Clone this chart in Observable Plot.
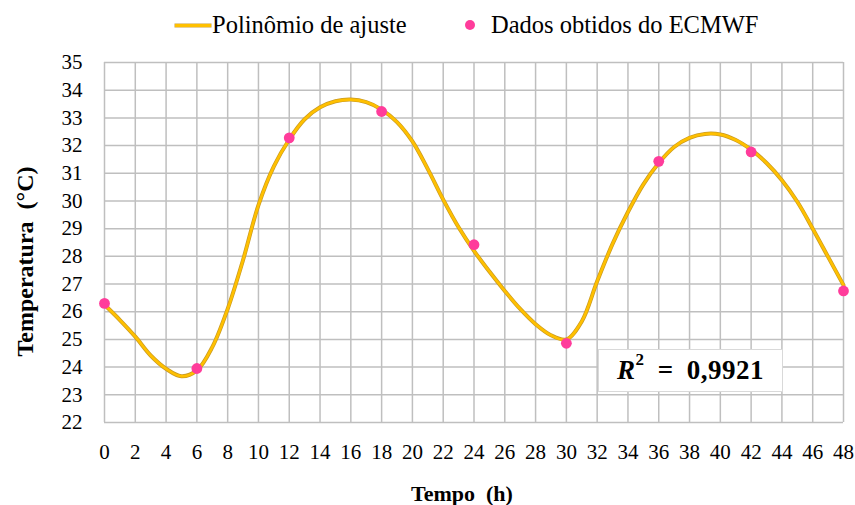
<!DOCTYPE html>
<html>
<head>
<meta charset="utf-8">
<script src="https://cdn.jsdelivr.net/npm/d3@7"></script>
<script src="https://cdn.jsdelivr.net/npm/@observablehq/plot@0.6"></script>
</head>
<body style="margin:0;padding:0;background:#fff">
<div id="wrap" style="position:relative;width:855px;height:505px;font-family:'Liberation Serif'">
  <div id="chart"></div>
  <div style="position:absolute;left:175px;top:23.5px;width:36px;height:3px;background:#ffc000;box-shadow:0 0 0 0.5px #c9a03a"></div>
  <span style="position:absolute;left:212px;top:11px;font-family:'Liberation Serif';font-size:24.5px;line-height:28px;color:#000;white-space:nowrap">Polinômio de ajuste</span>
  <div style="position:absolute;left:465px;top:20px;width:10px;height:10px;border-radius:50%;background:#ff3c9b"></div>
  <span style="position:absolute;left:491px;top:11px;font-family:'Liberation Serif';font-size:24.5px;line-height:28px;color:#000;white-space:nowrap">Dados obtidos do ECMWF</span>
  <div style="position:absolute;left:598px;top:349px;width:185px;height:43px;background:#fff;border:1px solid #d9d9d9;box-sizing:border-box;display:flex;align-items:center;justify-content:center">
    <span style="font-family:'Liberation Serif';font-weight:bold;font-size:27px;color:#000;word-spacing:6px;letter-spacing:0.5px"><i style="font-family:'Liberation Serif'">R</i><sup style="font-family:'Liberation Serif';font-size:17px;position:relative;top:-4px;vertical-align:top;line-height:1">2</sup> = 0,9921</span>
  </div>
</div>
<script>
// ECMWF data points
const hours = [0, 6, 12, 18, 24, 30, 36, 42, 48];
const temps = [26.3, 23.95, 32.28, 33.23, 28.42, 24.86, 31.43, 31.77, 26.75];

// Fitted polynomial curve (hourly)
const fitHours = [0,1,2,3,4,5,6,7,8,9,10,11,12,13,14,15,16,17,18,19,20,21,22,23,24,
                  25,26,27,28,29,30,31,32,33,34,35,36,37,38,39,40,41,42,43,44,45,46,47,48];
const fitTemps = [26.25,25.7,25.1,24.42,23.94,23.67,23.88,24.72,26.1,27.87,29.85,31.25,32.22,32.95,33.38,33.6,33.66,33.57,33.3,32.85,32.15,31.15,30.05,29.05,28.2,
                  27.45,26.75,26.1,25.55,25.15,25.0,25.65,27.1,28.45,29.6,30.6,31.37,31.95,32.28,32.42,32.4,32.2,31.85,31.37,30.75,29.97,29.0,27.98,26.96];

// Tick labels
const xTicks = [0,2,4,6,8,10,12,14,16,18,20,22,24,26,28,30,32,34,36,38,40,42,44,46,48];
const yTicks = [22,23,24,25,26,27,28,29,30,31,32,33,34,35];

const points = hours.map((h, i) => ({h, t: temps[i]}));
const fit = fitHours.map((h, i) => ({h, t: fitTemps[i]}));

const serif = "Liberation Serif";
const gridStyle = {stroke: "#bfbfbf", strokeOpacity: 1, strokeWidth: 1.5};

const chart = Plot.plot({
  width: 855,
  height: 505,
  marginTop: 62,
  marginBottom: 83,
  marginLeft: 104,
  marginRight: 12,
  style: {fontFamily: serif, fontSize: "21px", color: "#000", background: "transparent"},
  x: {domain: [0, 48]},
  y: {domain: [22, 35]},
  marks: [
    Plot.gridX(xTicks, gridStyle),
    Plot.gridY(yTicks, gridStyle),
    Plot.axisX(xTicks, {tickSize: 0, tickPadding: 22, fontSize: 21, fontFamily: serif, label: null}),
    Plot.axisY(yTicks, {tickSize: 0, tickPadding: 22, fontSize: 21, fontFamily: serif, label: null}),
    Plot.line(fit, {x: "h", y: "t", curve: "catmull-rom", stroke: "#c99a22", strokeWidth: 4}),
    Plot.line(fit, {x: "h", y: "t", curve: "catmull-rom", stroke: "#ffc000", strokeWidth: 2.6}),
    Plot.dot(points, {x: "h", y: "t", r: 5.4, fill: "#ff3c9b", stroke: "none"}),
    Plot.text(["Temperatura  (°C)"], {text: d => d, frameAnchor: "left", textAnchor: "middle", lineAnchor: "middle", rotate: -90, dx: -79, dy: 19, fontWeight: "bold", fontSize: 24, fontFamily: serif}),
    Plot.text(["Tempo  (h)"], {text: d => d, frameAnchor: "bottom", textAnchor: "middle", lineAnchor: "middle", dx: -12, dy: 71, fontWeight: "bold", fontSize: 22, fontFamily: serif})
  ]
});
chart.querySelectorAll("text, tspan").forEach(t => t.style.fontFamily = "'Liberation Serif'");
document.getElementById("chart").appendChild(chart);
</script>
</body>
</html>
